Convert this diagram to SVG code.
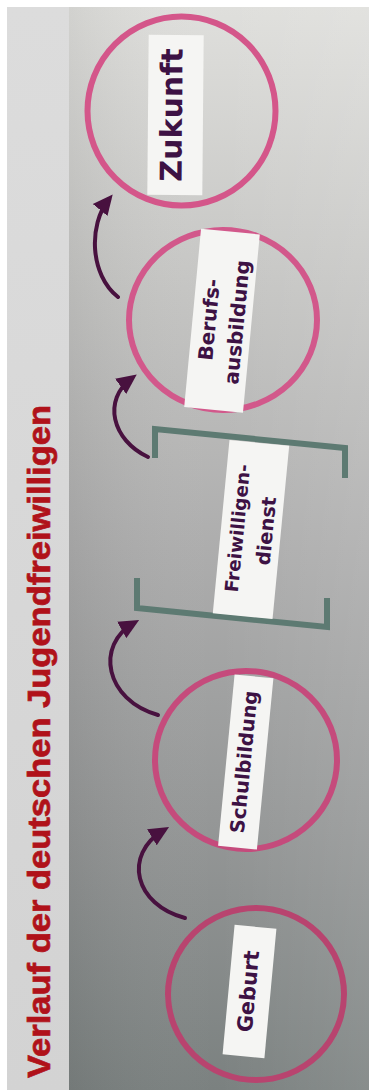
<svg xmlns="http://www.w3.org/2000/svg" width="369" height="1090" viewBox="0 0 369 1090">
  <defs>
    <linearGradient id="bg" x1="0" y1="0" x2="0" y2="1">
      <stop offset="0" stop-color="#dfdfdc"/>
      <stop offset="0.25" stop-color="#c6c6c4"/>
      <stop offset="0.5" stop-color="#adadad"/>
      <stop offset="0.75" stop-color="#959797"/>
      <stop offset="1" stop-color="#7b8180"/>
    </linearGradient>
    <linearGradient id="sheen" x1="0" y1="0" x2="1" y2="0">
      <stop offset="0" stop-color="#000" stop-opacity="0.06"/>
      <stop offset="0.5" stop-color="#fff" stop-opacity="0"/>
      <stop offset="1" stop-color="#fff" stop-opacity="0.1"/>
    </linearGradient>
    <linearGradient id="strip" x1="0" y1="0" x2="0" y2="1">
      <stop offset="0" stop-color="#dcdcdc"/>
      <stop offset="1" stop-color="#d3d3d3"/>
    </linearGradient>
    <marker id="head" markerUnits="userSpaceOnUse" markerWidth="20" markerHeight="20" viewBox="0 0 17 16" refX="12" refY="8" orient="auto">
      <path d="M0,0 L17,8 L0,16 z" fill="#48113f"/>
    </marker>
    <style>
      .ring { fill: none; stroke-width: 6; }
      .label { fill: #f5f5f3; }
      .lt { font-family: "DejaVu Sans", "Liberation Sans", sans-serif; font-weight: bold; fill: #3d1244; text-anchor: middle; }
      .bracket { fill: none; stroke: #5d7a72; stroke-width: 6; stroke-linejoin: miter; }
      .arrow { fill: none; stroke: #48113f; stroke-width: 4; stroke-linecap: round; marker-end: url(#head); }
    </style>
  </defs>

  <rect x="0" y="0" width="369" height="1090" fill="#ffffff"/>
  <rect x="7" y="7" width="62" height="1083" fill="url(#strip)"/>
  <rect x="69" y="7" width="300" height="1083" fill="url(#bg)"/>
  <rect x="69" y="7" width="300" height="1083" fill="url(#sheen)"/>

  <g id="title">
    <text transform="translate(50,1078) rotate(-90)" x="0" y="0" font-family="'Liberation Sans', Arial, sans-serif" font-weight="bold" font-size="32" fill="#b0121a" stroke="#b0121a" stroke-width="0.7" textLength="673" lengthAdjust="spacingAndGlyphs">Verlauf der deutschen Jugendfreiwilligen</text>
  </g>

  <g id="connectors">
    <path class="arrow" d="M118,297 C90,275 88,225 109,199"/>
    <path class="arrow" d="M148,457 C112,440 102,400 132,378"/>
    <path class="arrow" d="M158,715 C105,700 95,645 134,623"/>
    <path class="arrow" d="M185,918 C135,905 122,855 164,830"/>
  </g>

  <g id="node-zukunft">
    <ellipse class="ring" cx="181.5" cy="111" rx="94" ry="94.5" stroke="#d4568a"/>
    <g transform="translate(175.5,115) rotate(-89.5)">
      <rect class="label" x="-80" y="-27.5" width="160" height="55"/>
      <text class="lt" x="0" y="6.5" font-size="30">Zukunft</text>
    </g>
  </g>

  <g id="node-berufsausbildung">
    <ellipse class="ring" cx="223" cy="320" rx="94" ry="90" stroke="#d2588b"/>
    <g transform="translate(222,320.75) rotate(-84.6)">
      <rect class="label" x="-89.5" y="-29.5" width="179" height="59"/>
      <text class="lt" x="0" y="-6" font-size="20">Berufs-</text>
      <text class="lt" x="0" y="22" font-size="20">ausbildung</text>
    </g>
  </g>

  <g id="node-freiwilligendienst">
    <path class="bracket" d="M155,458 L155,429 L345,448 L345,478"/>
    <path class="bracket" d="M137,578 L137,608 L327,627 L327,598"/>
    <g transform="translate(251,529.5) rotate(-84.5)">
      <rect class="label" x="-87" y="-30" width="174" height="60"/>
      <text class="lt" x="0" y="-7" font-size="18.5">Freiwilligen-</text>
      <text class="lt" x="0" y="22" font-size="19.5">dienst</text>
    </g>
  </g>

  <g id="node-schulbildung">
    <ellipse class="ring" cx="246" cy="760" rx="91" ry="89" stroke="#c54b7c"/>
    <g transform="translate(245.75,762) rotate(-84.5)">
      <rect class="label" x="-86" y="-19.5" width="172" height="39"/>
      <text class="lt" x="0" y="5" font-size="19.5">Schulbildung</text>
    </g>
  </g>

  <g id="node-geburt">
    <ellipse class="ring" cx="256" cy="994" rx="88" ry="86" stroke="#b8446f"/>
    <g transform="translate(249.5,991.5) rotate(-84.7)">
      <rect class="label" x="-65" y="-21" width="130" height="42"/>
      <text class="lt" x="0" y="6" font-size="21">Geburt</text>
    </g>
  </g>
</svg>
